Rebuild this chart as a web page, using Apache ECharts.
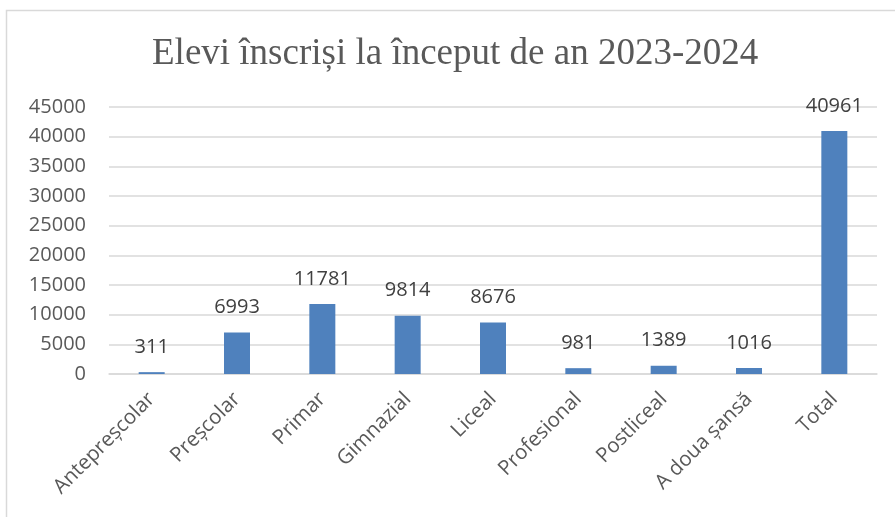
<!DOCTYPE html>
<html>
<head>
<meta charset="utf-8">
<script src="https://cdn.jsdelivr.net/npm/echarts@6/dist/echarts.min.js"></script>
<style>
  html, body { margin: 0; padding: 0; background: #fff; }
  #chart { width: 895px; height: 517px; }
</style>
</head>
<body>
<div id="chart"></div>
<script>
// Enrolment by level, start of school year 2023-2024
const categories = ['Antepreșcolar', 'Preșcolar', 'Primar', 'Gimnazial', 'Liceal', 'Profesional', 'Postliceal', 'A doua șansă', 'Total'];
const students = [311, 6993, 11781, 9814, 8676, 981, 1389, 1016, 40961];
const yTicks = [0, 5000, 10000, 15000, 20000, 25000, 30000, 35000, 40000, 45000];

const chart = echarts.init(document.getElementById('chart'), null, { renderer: 'canvas' });
chart.setOption({
  animation: false,
  backgroundColor: '#ffffff',
  graphic: [{
    type: 'rect',
    shape: { x: 6.5, y: 10.5, width: 900, height: 520 },
    style: { fill: 'none', stroke: '#d9d9d9', lineWidth: 1.5 },
    silent: true
  }],
  title: {
    text: 'Elevi înscriși la început de an 2023-2024',
    left: 147,
    top: 31,
    textStyle: {
      fontFamily: 'Liberation Serif',
      fontWeight: 'normal',
      fontSize: 37,
      color: '#595959'
    }
  },
  grid: { left: 109, right: 18, top: 107, bottom: 143, containLabel: false },
  xAxis: {
    type: 'category',
    data: categories,
    axisLine: { lineStyle: { color: '#d9d9d9', width: 1.5 } },
    axisTick: { show: false },
    axisLabel: {
      rotate: 45,
      interval: 0,
      margin: 22,
      fontFamily: 'Open Sans',
      fontSize: 20.5,
      color: '#595959'
    }
  },
  yAxis: {
    type: 'value',
    min: yTicks[0],
    max: yTicks[yTicks.length - 1],
    interval: 5000,
    axisLine: { show: false },
    axisTick: { show: false },
    splitLine: { lineStyle: { color: '#d9d9d9', width: 1.5 } },
    axisLabel: {
      margin: 23,
      formatter: v => String(v),
      fontFamily: 'Open Sans',
      fontSize: 20,
      color: '#595959'
    }
  },
  series: [{
    type: 'bar',
    data: students,
    barWidth: 26,
    itemStyle: { color: '#4f81bd' },
    label: {
      show: true,
      position: 'top',
      distance: 15,
      fontFamily: 'Open Sans',
      fontSize: 20,
      color: '#404040'
    }
  }]
});
</script>
</body>
</html>
